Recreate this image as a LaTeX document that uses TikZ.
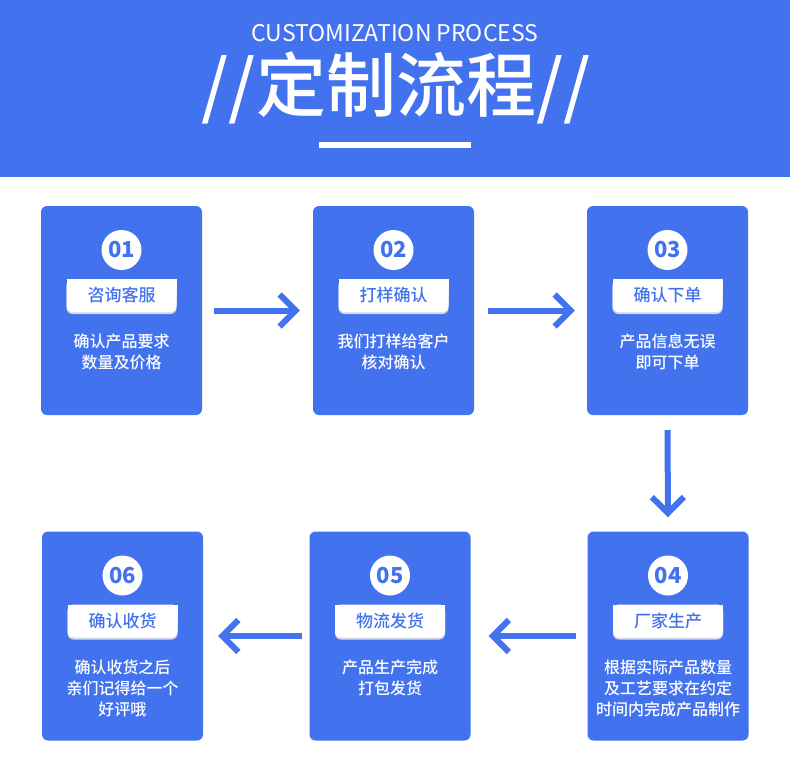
\documentclass[tikz,border=0pt]{standalone}
\usepackage{fontspec}
\setmainfont{Noto Sans CJK SC}
\newfontfamily\medfont{Noto Sans CJK SC Medium}
\usetikzlibrary{positioning,arrows.meta}
\definecolor{flowblue}{RGB}{66,114,238}
\definecolor{tagshade}{RGB}{214,218,238}

\begin{document}
\begin{tikzpicture}
  [x=1pt, y=-1pt,
   card/.style={
     fill=flowblue,
     rounded corners=6pt,
     minimum width=161pt,
     minimum height=209pt,
     inner sep=0pt
     },
   num/.style={
     circle,
     fill=white,
     minimum size=40pt,
     inner sep=0pt,
     text=flowblue,
     font=\fontsize{22}{22}\selectfont\bfseries
     },
   tagtop/.style={fill=white, minimum width=110pt, minimum height=18pt, inner sep=0pt},
   tag/.style={
     fill=white,
     rounded corners=6pt,
     minimum width=110pt,
     minimum height=33pt,
     inner sep=0pt,
     text=flowblue,
     font=\medfont\fontsize{17}{17}\selectfont,
     preaction={fill=tagshade, transform canvas={yshift=-2pt}}
     },
   desc/.style={text=white, align=center, inner sep=0pt, font=\medfont\fontsize{16}{21}\selectfont},
   flow/.style={draw=flowblue, line width=6pt, -{Straight Barb[length=16pt,width=32pt]}}
  ]
  \useasboundingbox (0,0) rectangle (790,780);
  \fill[white] (0,0) rectangle (790,780);

  % HEADER
  \fill[flowblue] (0,0) rectangle (790,177);
  \node[text=white, font=\fontsize{23}{23}\selectfont] (entitle) at (395,33) {CUSTOMIZATION PROCESS};
  \node[text=white, font=\medfont\fontsize{70}{70}\selectfont] (title) at (396,88) {//定制流程//};
  \fill[white] (319,142) rectangle (471,148);

  % CARDS
  \node[card] (c1) at (121.5,310.5) {};
  \node[num, below=24pt of c1.north] (n1) {01};
  \node[tagtop, below=73pt of c1.north] {};
  \node[tag, below=73pt of c1.north] (t1) {咨询客服};
  \node[desc, below=128pt of c1.north] (d1) {确认产品要求\\数量及价格};

  \node[card] (c2) at (393.5,310.5) {};
  \node[num, below=24pt of c2.north] (n2) {02};
  \node[tagtop, below=73pt of c2.north] {};
  \node[tag, below=73pt of c2.north] (t2) {打样确认};
  \node[desc, below=128pt of c2.north] (d2) {我们打样给客户\\核对确认};

  \node[card] (c3) at (667.5,310.5) {};
  \node[num, below=24pt of c3.north] (n3) {03};
  \node[tagtop, below=73pt of c3.north] {};
  \node[tag, below=73pt of c3.north] (t3) {确认下单};
  \node[desc, below=128pt of c3.north] (d3) {产品信息无误\\即可下单};

  \node[card] (c4) at (668,636) {};
  \node[num, below=24pt of c4.north] (n4) {04};
  \node[tagtop, below=73pt of c4.north] {};
  \node[tag, below=73pt of c4.north] (t4) {厂家生产};
  \node[desc, below=128pt of c4.north] (d4) {根据实际产品数量\\及工艺要求在约定\\时间内完成产品制作};

  \node[card] (c5) at (390,636) {};
  \node[num, below=24pt of c5.north] (n5) {05};
  \node[tagtop, below=73pt of c5.north] {};
  \node[tag, below=73pt of c5.north] (t5) {物流发货};
  \node[desc, below=128pt of c5.north] (d5) {产品生产完成\\打包发货};

  \node[card] (c6) at (122.5,636) {};
  \node[num, below=24pt of c6.north] (n6) {06};
  \node[tagtop, below=73pt of c6.north] {};
  \node[tag, below=73pt of c6.north] (t6) {确认收货};
  \node[desc, below=128pt of c6.north] (d6) {确认收货之后\\亲们记得给一个\\好评哦};

  % ARROWS
  \draw[flow, shorten <=12pt, shorten >=13pt] (c1.east) -- (c2.west);
  \draw[flow, shorten <=14pt, shorten >=12pt] (c2.east) -- (c3.west);
  \draw[flow, shorten <=15pt, shorten >=14pt] (c3.south) -- (c4.north);
  \draw[flow, shorten <=11pt, shorten >=18pt] (c4.west) -- (c5.east);
  \draw[flow, shorten <=7pt, shorten >=15pt] (c5.west) -- (c6.east);
\end{tikzpicture}
\end{document}
